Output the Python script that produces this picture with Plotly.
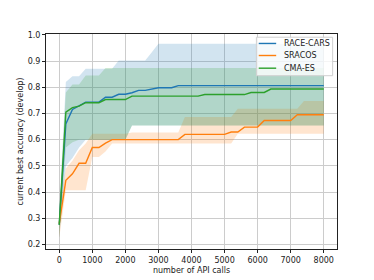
import plotly.graph_objects as go

x_calls = list(range(0, 8001, 200))  # 41 points

race_mean = [0.275, 0.66, 0.715, 0.73, 0.743, 0.743, 0.743, 0.762, 0.762, 0.773,
             0.773, 0.779, 0.788, 0.788, 0.794, 0.798, 0.798, 0.798, 0.806, 0.806,
             0.806, 0.806, 0.806, 0.806, 0.806, 0.806, 0.806, 0.806, 0.806, 0.806,
             0.806, 0.806, 0.806, 0.806, 0.806, 0.806, 0.806, 0.806, 0.806, 0.806, 0.806]
race_low = [0.225, 0.50, 0.53, 0.57, 0.60, 0.60, 0.60, 0.60, 0.60, 0.60,
            0.60, 0.654, 0.654, 0.654, 0.654, 0.654, 0.654, 0.654, 0.654, 0.654,
            0.654, 0.654, 0.654, 0.654, 0.654, 0.654, 0.654, 0.654, 0.654, 0.654,
            0.654, 0.654, 0.654, 0.654, 0.654, 0.654, 0.654, 0.654, 0.654, 0.654, 0.654]
race_high = [0.325, 0.82, 0.842, 0.842, 0.87, 0.87, 0.87, 0.87, 0.87, 0.902,
             0.902, 0.902, 0.902, 0.902, 0.933, 0.966, 0.966, 0.966, 0.966, 0.966,
             0.966, 0.966, 0.966, 0.966, 0.966, 0.966, 0.966, 0.966, 0.966, 0.966,
             0.966, 0.966, 0.966, 0.966, 0.966, 0.966, 0.966, 0.966, 0.966, 0.966, 0.966]

sracos_mean = [0.28, 0.445, 0.47, 0.51, 0.51, 0.57, 0.57, 0.587, 0.60, 0.60,
               0.60, 0.60, 0.60, 0.60, 0.60, 0.60, 0.60, 0.60, 0.60, 0.62,
               0.62, 0.62, 0.62, 0.62, 0.62, 0.62, 0.629, 0.629, 0.648, 0.648,
               0.648, 0.673, 0.673, 0.673, 0.673, 0.673, 0.695, 0.695, 0.695, 0.695, 0.695]
sracos_low = [0.225, 0.407, 0.407, 0.407, 0.407, 0.534, 0.534, 0.555, 0.585, 0.585,
              0.585, 0.585, 0.585, 0.585, 0.585, 0.585, 0.585, 0.585, 0.585, 0.585,
              0.585, 0.585, 0.585, 0.585, 0.585, 0.585, 0.585, 0.623, 0.623, 0.623,
              0.623, 0.623, 0.623, 0.623, 0.623, 0.623, 0.623, 0.623, 0.623, 0.623, 0.623]
sracos_high = [0.325, 0.49, 0.52, 0.56, 0.585, 0.623, 0.623, 0.623, 0.623, 0.623,
               0.623, 0.627, 0.627, 0.627, 0.627, 0.627, 0.627, 0.627, 0.627, 0.686,
               0.686, 0.686, 0.686, 0.686, 0.686, 0.686, 0.686, 0.718, 0.718, 0.718,
               0.718, 0.718, 0.718, 0.718, 0.718, 0.718, 0.718, 0.747, 0.747, 0.747, 0.747]

cma_mean = [0.275, 0.705, 0.722, 0.728, 0.741, 0.741, 0.741, 0.753, 0.753, 0.753,
            0.753, 0.766, 0.766, 0.766, 0.766, 0.766, 0.766, 0.766, 0.766, 0.766,
            0.766, 0.766, 0.772, 0.772, 0.772, 0.772, 0.772, 0.772, 0.772, 0.780,
            0.780, 0.780, 0.793, 0.793, 0.793, 0.793, 0.793, 0.793, 0.793, 0.793, 0.793]
cma_low = [0.225, 0.57, 0.59, 0.60, 0.60, 0.60, 0.60, 0.60, 0.60, 0.60,
           0.60, 0.654, 0.654, 0.654, 0.654, 0.654, 0.654, 0.654, 0.654, 0.654,
           0.654, 0.654, 0.654, 0.654, 0.654, 0.654, 0.654, 0.654, 0.654, 0.654,
           0.654, 0.654, 0.654, 0.654, 0.654, 0.654, 0.654, 0.654, 0.654, 0.654, 0.654]
cma_high = [0.325, 0.78, 0.81, 0.81, 0.845, 0.845, 0.845, 0.873, 0.873, 0.873,
            0.873, 0.873, 0.873, 0.873, 0.873, 0.873, 0.873, 0.873, 0.873, 0.873,
            0.873, 0.873, 0.873, 0.873, 0.873, 0.873, 0.873, 0.873, 0.873, 0.873,
            0.873, 0.873, 0.873, 0.873, 0.873, 0.873, 0.873, 0.873, 0.873, 0.873, 0.873]

series_names = ["RACE-CARS", "SRACOS", "CMA-ES"]
x_ticks = [0, 1000, 2000, 3000, 4000, 5000, 6000, 7000, 8000]
y_ticks = [0.2, 0.3, 0.4, 0.5, 0.6, 0.7, 0.8, 0.9, 1.0]

colors = ["#1f77b4", "#ff7f0e", "#2ca02c"]
fills = ["rgba(31,119,180,0.2)", "rgba(255,127,14,0.2)", "rgba(44,160,44,0.2)"]

fig = go.Figure()
data = [(race_mean, race_low, race_high), (sracos_mean, sracos_low, sracos_high),
        (cma_mean, cma_low, cma_high)]

for i, (m, lo, hi) in enumerate(data):
    fig.add_trace(go.Scatter(x=x_calls, y=lo, mode="lines", line=dict(width=0),
                             showlegend=False, hoverinfo="skip"))
    fig.add_trace(go.Scatter(x=x_calls, y=hi, mode="lines", line=dict(width=0),
                             fill="tonexty", fillcolor=fills[i],
                             showlegend=False, hoverinfo="skip"))
for i, (m, lo, hi) in enumerate(data):
    fig.add_trace(go.Scatter(x=x_calls, y=m, mode="lines", name=series_names[i],
                             line=dict(color=colors[i], width=1.4), showlegend=False))

fnt = dict(family="DejaVu Sans", size=8, color="#222")

# custom compact legend (matplotlib style)
shapes = [dict(type="rect", xref="paper", yref="paper", x0=0.723, x1=0.985,
               y0=0.806, y1=0.985, fillcolor="rgba(255,255,255,0.8)",
               line=dict(color="#d0d0d0", width=1), layer="above")]
annotations = []
row_y = [0.956, 0.900, 0.841]
for i, name in enumerate(series_names):
    shapes.append(dict(type="line", xref="paper", yref="paper", x0=0.731, x1=0.791,
                       y0=row_y[i], y1=row_y[i], line=dict(color=colors[i], width=1.4),
                       layer="above"))
    annotations.append(dict(xref="paper", yref="paper", x=0.812, y=row_y[i],
                            xanchor="left", yanchor="middle", text=name,
                            showarrow=False, font=fnt))

fig.update_layout(
    width=374, height=280,
    margin=dict(l=46, r=37, t=34, b=31),
    paper_bgcolor="white", plot_bgcolor="white",
    font=fnt,
    showlegend=False,
    shapes=shapes,
    annotations=annotations,
)
fig.update_xaxes(range=[-400, 8400], tickvals=x_ticks, ticktext=[str(v) for v in x_ticks],
                 showgrid=True, gridcolor="#cccccc", gridwidth=1,
                 showline=True, linecolor="#222", linewidth=1, mirror=True,
                 ticks="outside", ticklen=3, tickcolor="#222", zeroline=False,
                 automargin=False,
                 title=dict(text="number of API calls", font=fnt, standoff=3))
fig.update_yaxes(range=[0.183, 1.003], tickvals=y_ticks,
                 ticktext=["%.1f" % v for v in y_ticks],
                 showgrid=True, gridcolor="#cccccc", gridwidth=1,
                 showline=True, linecolor="#222", linewidth=1, mirror=True,
                 ticks="outside", ticklen=3, tickcolor="#222", zeroline=False,
                 automargin=False,
                 title=dict(text="current best accuracy (develop)", font=fnt, standoff=2))

fig.write_html("out.html", config={"displayModeBar": False},
               post_script="document.body.style.margin='0';document.body.style.overflow='hidden';")
